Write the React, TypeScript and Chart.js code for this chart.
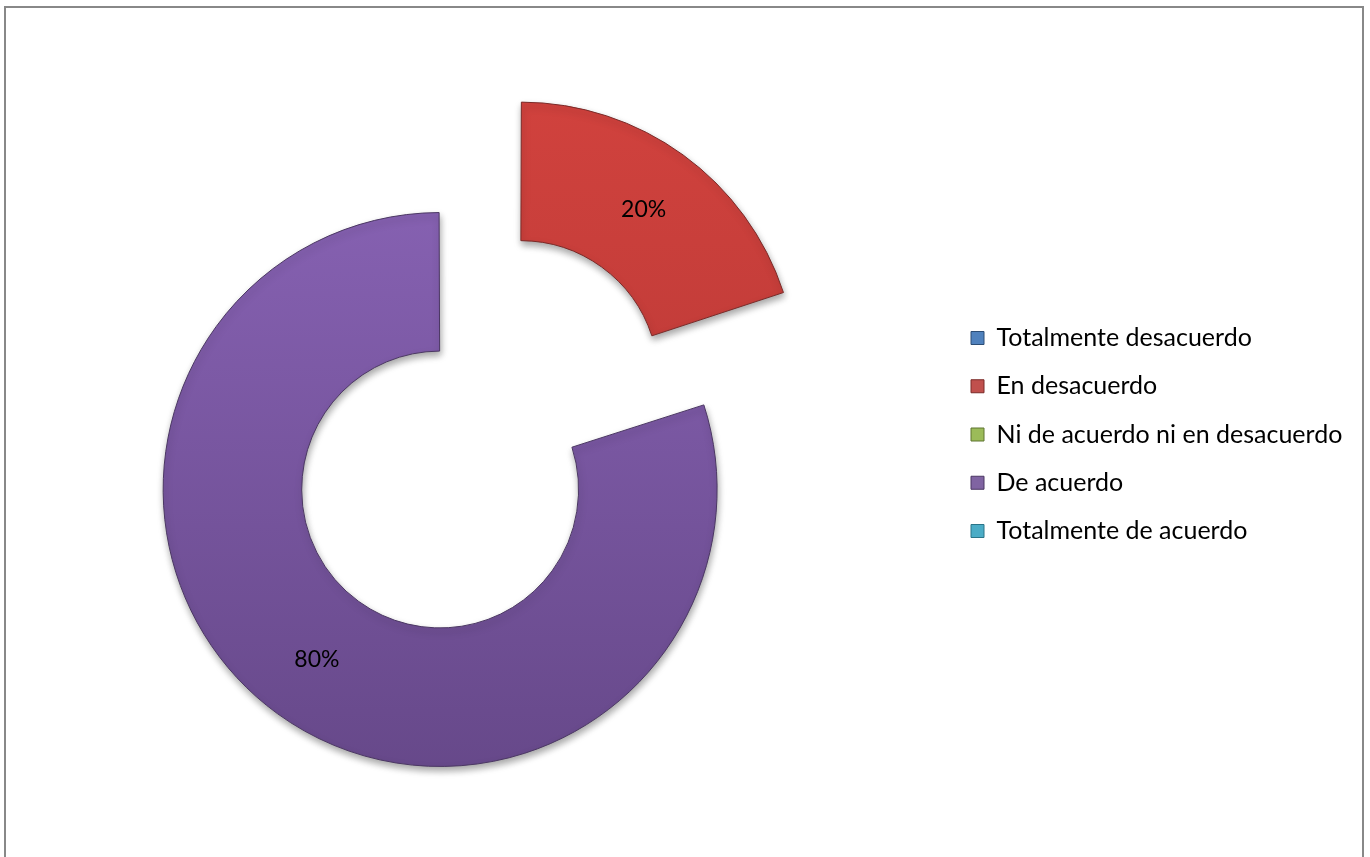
import React, { useEffect, useRef } from "react";
import { Chart, registerables } from "chart.js";

Chart.register(...registerables);

const categories = [
  "Totalmente desacuerdo",
  "En desacuerdo",
  "Ni de acuerdo ni en desacuerdo",
  "De acuerdo",
  "Totalmente de acuerdo",
];
const values = [0, 20, 0, 80, 0];
const legendColors = ["#4F81BD", "#C0504D", "#9BBB59", "#8064A2", "#4BACC6"];
const sliceTop = ["#4F81BD", "#D6443F", "#9BBB59", "#8B65B8", "#4BACC6"];
const sliceBottom = ["#3A6499", "#B23634", "#7E9A45", "#664889", "#3590A8"];
const sliceBorder = ["#2C4D75", "#7A2A28", "#5E7430", "#4B3763", "#2A7488"];
const explode = [0, 520.5, 0, 25.5, 0];

const FONT_FAMILY = "Lato";
const FONT_SIZE = 25;
const LABEL_SIZE = 23;
const ROW_PAD = 23.25;
const BOX = 13;
const SHIFT = 66;
const CANVAS_W = 1356 + SHIFT;
const CANVAS_H = 849;

export default function App() {
  const ref = useRef<HTMLCanvasElement | null>(null);

  useEffect(() => {
    const canvas = ref.current;
    if (!canvas) return;
    const mctx = document.createElement("canvas").getContext("2d")!;
    mctx.font = `${FONT_SIZE}px ${FONT_FAMILY}`;
    let maxText = 0;
    categories.forEach((c) => {
      maxText = Math.max(maxText, mctx.measureText(c).width);
    });
    const maxItemW = BOX + FONT_SIZE / 2 + maxText;
    const markerX = 965 + SHIFT;
    const padR = CANVAS_W - markerX - 10 - maxItemW;
    const padT = 330 - ROW_PAD - FONT_SIZE / 2;
    const padB = padT - 103.7;
    const padL = 2 * (437.74 + SHIFT) - (markerX - ROW_PAD);

    const total = values.reduce((a, b) => a + b, 0);

    const shadowPlugin = {
      id: "shadow",
      beforeDatasetsDraw(chart: any) {
        const c = chart.ctx;
        c.save();
        c.shadowColor = "rgba(0,0,0,0.35)";
        c.shadowBlur = 7;
        c.shadowOffsetX = 1;
        c.shadowOffsetY = 4;
      },
      afterDatasetsDraw(chart: any) {
        chart.ctx.restore();
      },
    };

    const labelPlugin = {
      id: "sliceLabels",
      afterDatasetsDraw(chart: any) {
        const c = chart.ctx;
        const meta = chart.getDatasetMeta(0);
        c.save();
        c.font = `${LABEL_SIZE}px ${FONT_FAMILY}`;
        c.fillStyle = "#000";
        c.textAlign = "center";
        c.textBaseline = "middle";
        meta.data.forEach((arc: any, i: number) => {
          const v = values[i];
          if (!v) return;
          const off = (arc.options.offset || 0) / 4;
          const half = (arc.startAngle + arc.endAngle) / 2;
          const circ = arc.endAngle - arc.startAngle;
          const fix = 1 - Math.sin(Math.min(Math.PI, circ));
          const r = (arc.innerRadius + arc.outerRadius) / 2 + off * fix + 2;
          const x = arc.x + Math.cos(half) * (off + r);
          const y = arc.y + Math.sin(half) * (off + r);
          c.fillText(`${Math.round((v / total) * 100)}%`, x, y);
        });
        c.restore();
      },
    };

    const chart = new Chart(canvas, {
      type: "doughnut",
      data: {
        labels: categories,
        datasets: [
          {
            data: values,
            backgroundColor: (ctx: any) => {
              const i = ctx.dataIndex ?? 0;
              const g = ctx.chart.ctx.createLinearGradient(0, 95, 0, 770);
              g.addColorStop(0, sliceTop[i]);
              g.addColorStop(1, sliceBottom[i]);
              return g;
            },
            borderColor: sliceBorder,
            borderWidth: 1,
            offset: explode,
            hoverOffset: 0,
            clip: false,
          } as any,
        ],
      },
      options: {
        animation: false,
        responsive: false,
        radius: 270.6,
        cutout: "48.8%",
        layout: { padding: { left: padL, right: padR, top: padT, bottom: padB } },
        plugins: {
          tooltip: { enabled: false },
          legend: {
            display: true,
            position: "right",
            align: "start",
            labels: {
              boxWidth: BOX,
              boxHeight: BOX,
              padding: ROW_PAD,
              color: "#000",
              font: { family: FONT_FAMILY, size: FONT_SIZE },
              generateLabels: () =>
                categories.map((t, i) => ({
                  text: t,
                  fillStyle: legendColors[i],
                  strokeStyle: sliceBorder[i],
                  lineWidth: 1,
                  hidden: false,
                  index: i,
                  fontColor: "#000",
                })),
            },
          },
        },
      } as any,
      plugins: [shadowPlugin, labelPlugin],
    });
    return () => chart.destroy();
  }, []);

  return (
    <div
      style={{
        position: "fixed",
        left: 4,
        top: 6,
        width: 1360,
        height: 900,
        boxSizing: "border-box",
        border: "2px solid #888",
        background: "#fff",
        overflow: "hidden",
      }}
    >
      <canvas
        ref={ref}
        width={CANVAS_W}
        height={CANVAS_H}
        style={{ display: "block", position: "absolute", left: -SHIFT, top: 0 }}
      />
    </div>
  );
}
